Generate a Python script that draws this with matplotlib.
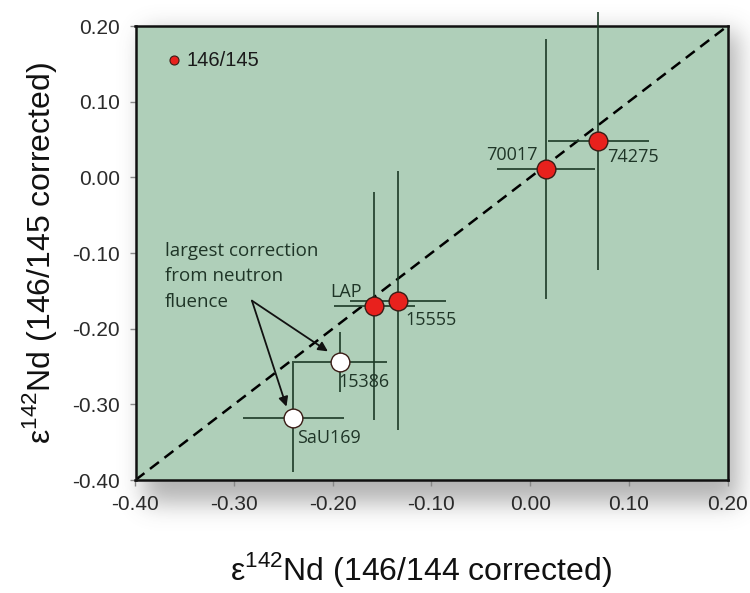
import numpy as np
import matplotlib
matplotlib.use("Agg")
import matplotlib.pyplot as plt

plt.rcParams['mathtext.fontset'] = 'custom'
plt.rcParams['mathtext.rm'] = 'Liberation Sans'

# ---- data ----
samples = ["74275", "70017", "LAP", "15555", "15386", "SaU169"]
x_vals = [0.069, 0.016, -0.158, -0.134, -0.193, -0.240]
y_vals = [0.048, 0.011, -0.170, -0.163, -0.244, -0.318]
x_err = [0.051, 0.050, 0.041, 0.049, 0.048, 0.051]
y_err = [0.170, 0.172, 0.151, 0.171, 0.040, 0.072]
filled = [True, True, True, True, False, False]
label_pos = [(0.078, 0.027, 'left'), (0.008, 0.030, 'right'), (-0.203, -0.151, 'left'),
             (-0.126, -0.188, 'left'), (-0.194, -0.270, 'left'), (-0.236, -0.345, 'left')]
note_lines = ["largest correction", "from neutron", "fluence"]
ticks = [-0.40, -0.30, -0.20, -0.10, 0.00, 0.10, 0.20]
tick_labels = ["-0.40", "-0.30", "-0.20", "-0.10", "0.00", "0.10", "0.20"]

W, H = 750, 593
fig = plt.figure(figsize=(W / 100, H / 100), dpi=100)
fig.patch.set_facecolor('white')

ax_l, ax_r, ax_t, ax_b = 135.5, 727.5, 26, 480

# shadow behind the axes
bg = fig.add_axes([0, 0, 1, 1], zorder=-5)
bg.set_axis_off()
yy, xx = np.mgrid[0:H, 0:W]
mask = ((xx >= ax_l + 8) & (xx <= ax_r + 10) & (yy >= ax_t + 6) & (yy <= ax_b + 22)).astype(float)
sig = 12
k = np.exp(-0.5 * (np.arange(-3 * sig, 3 * sig + 1) / sig) ** 2)
k /= k.sum()
mask = np.apply_along_axis(lambda r: np.convolve(r, k, mode='same'), 1, mask)
mask = np.apply_along_axis(lambda c: np.convolve(c, k, mode='same'), 0, mask)
rgba = np.zeros((H, W, 4))
rgba[..., :3] = 0.4
rgba[..., 3] = 0.5 * mask
bg.imshow(rgba, extent=[0, W, H, 0], aspect='auto')
bg.set_xlim(0, W)
bg.set_ylim(H, 0)

ax = fig.add_axes([ax_l / W, 1 - ax_b / H, (ax_r - ax_l) / W, (ax_b - ax_t) / H])
ax.set_facecolor('#afcfb9')
ax.set_xlim(-0.40, 0.20)
ax.set_ylim(-0.40, 0.20)

ebc = '#1c3a26'
txtc = '#1f3527'

# 1:1 line
ax.plot([-0.40, 0.20], [-0.40, 0.20], color='black', lw=1.8, ls=(0, (4.5, 2.8)), zorder=2)

for i in range(len(samples)):
    ax.errorbar(x_vals[i], y_vals[i], xerr=x_err[i], yerr=y_err[i], fmt='none',
                ecolor=ebc, elinewidth=1.2, capsize=0, zorder=3, clip_on=False)
for i in range(len(samples)):
    fc = '#e8211d' if filled[i] else 'white'
    ax.plot(x_vals[i], y_vals[i], 'o', ms=13.5, mfc=fc, mec='#3a1c16', mew=1.0, zorder=5)
    lx, ly, ha = label_pos[i]
    ax.text(lx, ly, samples[i], ha=ha, va='center', fontsize=13, color=txtc,
            family='Open Sans', zorder=6)

# legend
ax.plot(-0.361, 0.155, 'o', ms=6.5, mfc='#e8211d', mec='#3a1c16', mew=0.8, zorder=5)
ax.text(-0.348, 0.155, "146/145", ha='left', va='center', fontsize=14.5, color='#1a1a1a',
        family='Liberation Sans')

# annotation
for j, line in enumerate(note_lines):
    ax.text(-0.370, -0.097 - 0.034 * j, line, ha='left', va='center',
            fontsize=13.5, color=txtc, family='Open Sans')
for tx, ty in [(-0.205, -0.230), (-0.247, -0.303)]:
    ax.annotate("", xy=(tx, ty), xytext=(-0.282, -0.163),
                arrowprops=dict(arrowstyle='-|>', color='#111111', lw=1.3,
                                mutation_scale=14, shrinkA=0, shrinkB=0), zorder=4)

ax.set_xticks(ticks)
ax.set_xticklabels(tick_labels)
ax.set_yticks(ticks)
ax.set_yticklabels(tick_labels)
ax.tick_params(direction='out', length=4, width=1, color='#888888', labelsize=15,
               labelcolor='#2a2a2a', pad=7)
for lab in ax.get_xticklabels() + ax.get_yticklabels():
    lab.set_family('Liberation Sans')
for sp in ax.spines.values():
    sp.set_linewidth(1.8)
    sp.set_color('#111111')

ax.set_xlabel("ε$^{\\mathrm{142}}$Nd (146/144 corrected)", fontsize=23, family='Liberation Sans',
              color='#111111', labelpad=28)
ax.xaxis.set_label_coords(0.483, -0.155)
ax.set_ylabel("ε$^{\\mathrm{142}}$Nd (146/145 corrected)", fontsize=23, family='Liberation Sans',
              color='#111111', labelpad=10)

fig.savefig("out.png", dpi=100)
